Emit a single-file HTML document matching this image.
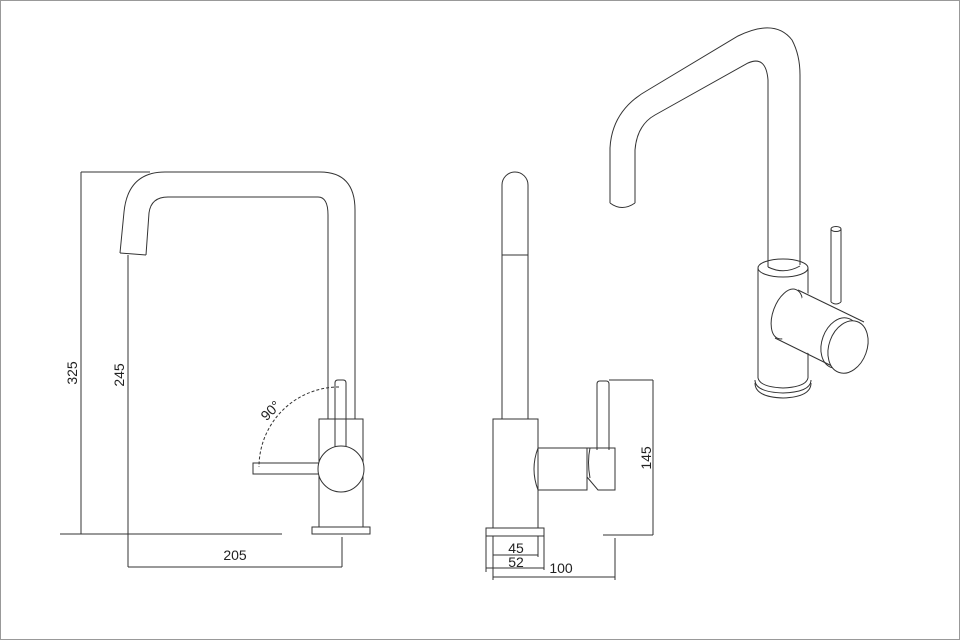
<!DOCTYPE html>
<html><head><style>
html,body{margin:0;padding:0;background:#fff;}
svg{display:block;}
text{font-family:"Liberation Sans",sans-serif;font-size:14px;fill:#222;}
</style></head><body>
<svg width="960" height="640" viewBox="0 0 960 640" xmlns="http://www.w3.org/2000/svg">
<rect x="0.5" y="0.5" width="959" height="639" fill="#fff" stroke="#999" stroke-width="1"/>
<g fill="none" stroke="#333" stroke-width="1">
<!-- LEFT VIEW -->
<line x1="81" y1="172" x2="81" y2="534"/>
<line x1="81" y1="172" x2="150" y2="172"/>
<line x1="60" y1="534" x2="282" y2="534"/>
<line x1="128" y1="255" x2="128" y2="567"/>
<line x1="128" y1="567" x2="342" y2="567"/>
<line x1="342" y1="537" x2="342" y2="567"/>
<path d="M120,253 L124,212 Q128,172 165,172 L320,172 Q355,172 355,210 L355,419"/>
<path d="M146,255 L149,213 Q151,197 168,197 L318,197 Q328,197 328,215 L328,419"/>
<line x1="120" y1="253" x2="146" y2="255"/>
<rect x="319" y="419" width="44" height="108"/>
<rect x="312" y="527" width="58" height="7"/>
<path d="M335,447 L335,383 Q335,380 338,380 L343,380 Q346,380 346,383 L346,448"/>
<rect x="253" y="463" width="66" height="11" fill="#fff"/>
<circle cx="341" cy="469" r="23" fill="#fff"/>
<path d="M339,387 A80,80 0 0 0 259,467" stroke-dasharray="3,2"/>
<!-- MIDDLE VIEW -->
<path d="M502,419 L502,185 A13,13 0 0 1 528,185 L528,419"/>
<line x1="502" y1="255" x2="528" y2="255"/>
<rect x="493" y="419" width="45" height="109"/>
<rect x="486" y="528" width="58" height="8"/>
<path d="M538,448 L587,448 L587,490 L538,490 Q530,469 538,448"/>
<path d="M587,448 L615,448 L615,490 L598,490 L587,477"/>
<path d="M590,448 Q587,462 590,478"/>
<path d="M597,450 L597,384 Q597,381 600,381 L606,381 Q609,381 609,384 L609,450"/>
<line x1="609" y1="380" x2="653" y2="380"/>
<line x1="653" y1="380" x2="653" y2="535"/>
<line x1="603" y1="535" x2="653" y2="535"/>
<line x1="486" y1="536" x2="486" y2="572"/>
<line x1="493" y1="536" x2="493" y2="580"/>
<line x1="538" y1="536" x2="538" y2="557"/>
<line x1="544" y1="536" x2="544" y2="570"/>
<line x1="493" y1="555" x2="538" y2="555"/>
<line x1="486" y1="568" x2="544" y2="568"/>
<line x1="493" y1="577" x2="615" y2="577"/>
<line x1="615" y1="538" x2="615" y2="580"/>
<!-- RIGHT VIEW -->
<path d="M610,203 L610,148 Q612,110 648,90 L738,36 Q775,18 792,40 Q800,55 800,75 L800,265"/>
<path d="M635,203 L635,150 Q637,125 655,115 L748,63 Q766,55 768,80 L768,267"/>
<path d="M610,203 Q622,212 635,203"/>
<path d="M758,268 L758,378"/>
<path d="M808,268 L808,378"/>
<ellipse cx="783" cy="268" rx="25" ry="9"/>
<path d="M768,267 Q784,275 800,266"/>
<path d="M755,380 Q755,392 783,393 Q811,392 811,380"/>
<path d="M755,383 Q755,397 783,398 Q811,397 811,383"/>
<path d="M758,378 Q760,387 783,388 Q806,387 808,378"/>
<ellipse cx="787" cy="314" rx="14" ry="26" transform="rotate(20 787 314)" fill="#fff"/>
<path d="M805,292 L866,322 L842,371 L782,339 Z" fill="#fff" stroke="none"/>
<path d="M798,290 L864,322"/>
<path d="M775,338 L840,370"/>
<ellipse cx="840" cy="343" rx="18" ry="26" transform="rotate(20 840 343)" fill="none"/>
<ellipse cx="848" cy="347" rx="19" ry="27" transform="rotate(20 848 347)" fill="#fff"/>
<path d="M831,302 L831,229 M841,302 L841,229"/>
<ellipse cx="836" cy="229" rx="5" ry="2.5"/>
<path d="M831,302 Q836,306 841,302"/>
</g>
<text x="0" y="0" transform="translate(77,373) rotate(-90)" text-anchor="middle">325</text>
<text x="0" y="0" transform="translate(124,375) rotate(-90)" text-anchor="middle">245</text>
<text x="235" y="560" text-anchor="middle">205</text>
<text x="0" y="0" transform="translate(274,414) rotate(-45)" text-anchor="middle" font-size="13">90°</text>
<text x="0" y="0" transform="translate(651,458) rotate(-90)" text-anchor="middle">145</text>
<text x="516" y="553" text-anchor="middle">45</text>
<text x="516" y="567" text-anchor="middle">52</text>
<text x="561" y="573" text-anchor="middle">100</text>
</svg>
</body></html>
